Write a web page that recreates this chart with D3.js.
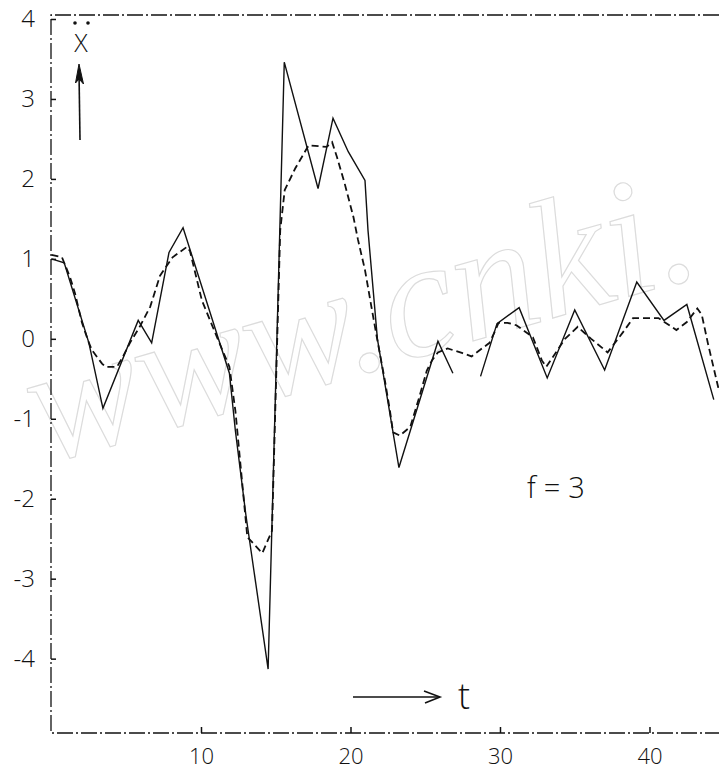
<!DOCTYPE html>
<html>
<head>
<meta charset="utf-8">
<script src="https://cdn.jsdelivr.net/npm/d3@7"></script>
<style>
  body { margin: 0; background: #fff; }
  svg { display: block; }
</style>
</head>
<body>
<svg id="chart"></svg>
<script>
// values (t, x-double-dot)
const solidT = [0, 0.85, 2.5, 3.44, 5.8, 6.7, 7.86, 8.8, 11.9, 12.3, 13.0, 14.49, 15.57, 17.83, 18.83, 19.85,
  20.97, 21.17, 21.8, 23.24, 25.85, 26.85, 27.8, 28.7, 29.8, 31.28, 33.16, 35.0, 37.0, 39.15, 40.97, 42.5, 44.3];
const solidX = [1.0, 0.95, -0.05, -0.87, 0.23, -0.05, 1.08, 1.39, -0.43, -1.15, -2.2, -4.13, 3.46, 1.88, 2.76, 2.34,
  1.98, 1.36, 0.0, -1.61, -0.03, -0.43, null, -0.47, 0.19, 0.39, -0.49, 0.36, -0.39, 0.71, 0.23, 0.43, -0.76];

const dashT = [0, 0.7, 1.24, 1.57, 2.04, 2.44, 2.7, 3.38, 3.6, 4.38, 4.7, 5.25, 5.9, 6.6, 7.26, 8.1, 9.06, 9.26,
  10.06, 11.07, 11.9, 12.3, 13.1, 14.1, 14.75, 14.95, 15.3, 15.6, 16.3, 17.2, 18.4, 18.77, 19.1, 19.6, 20.2, 20.5,
  20.97, 21.4, 21.8, 22.3, 22.64, 22.85, 23.3, 24.0, 24.6, 25.1, 25.45, 25.85, 26.5, 27.5, 28.1, 28.8, 29.3, 29.7,
  29.9, 30.5, 31.1, 32.2, 32.8, 33.1, 34.35, 35.2, 36.1, 37.2, 38.3, 38.9, 40.6, 41.8, 42.5, 43.2, 43.5, 43.9, 44.65];
const dashX = [1.05, 1.02, 0.77, 0.57, 0.2, -0.02, -0.14, -0.31, -0.35, -0.35, -0.25, -0.05, 0.15, 0.4, 0.79, 1.02, 1.15, 1.1,
  0.48, 0.02, -0.35, -0.9, -2.48, -2.68, -2.4, -1.02, 1.36, 1.86, 2.13, 2.42, 2.4, 2.46, 2.27, 1.95, 1.52, 1.24,
  0.86, 0.4, -0.02, -0.52, -0.9, -1.17, -1.21, -1.1, -0.73, -0.4, -0.27, -0.17, -0.12, -0.18, -0.22, -0.12, -0.05, 0.11,
  0.2, 0.2, 0.17, 0.02, -0.27, -0.35, 0.0, 0.15, 0.0, -0.17, 0.1, 0.26, 0.26, 0.11, 0.21, 0.38, 0.3, -0.05, -0.65];

const yTicks = [-4, -3, -2, -1, 0, 1, 2, 3, 4];
const xTicks = [10, 20, 30, 40];

const width = 719;
const height = 776;
const plotLeft = 51, plotTop = 15, plotBottom = 733;
const font = 'Open Sans, DejaVu Sans, sans-serif';
const ink = '#111';

const svg = d3.select('#chart').attr('width', width).attr('height', height);
svg.append('rect').attr('width', width).attr('height', height).attr('fill', '#fff');

// faint watermark of the scan
svg.append('text')
  .attr('transform', 'translate(44,464) rotate(-16)')
  .attr('font-family', 'Liberation Serif, serif')
  .attr('font-style', 'italic')
  .attr('font-size', 168)
  .attr('fill', 'none')
  .attr('stroke', '#dcdcdc')
  .attr('stroke-width', 1.2)
  .text('www.cnki.');

const x = d3.scaleLinear().domain([0, 44.65]).range([51.5, 719]);
const y = d3.scaleLinear().domain([-4.93, 4.05]).range([plotBottom, plotTop]);

// hand-drawn frame (dash-dot)
svg.append('path')
  .attr('d', `M${width},${plotTop}H${plotLeft}V${plotBottom}H${width}`)
  .attr('stroke', ink)
  .attr('stroke-width', 1.3)
  .attr('stroke-dasharray', '16 3 2 3')
  .attr('fill', 'none');

const yAxis = svg.append('g')
  .attr('transform', `translate(${plotLeft},0)`)
  .call(d3.axisLeft(y).tickValues(yTicks).tickSize(-5).tickSizeOuter(0).tickPadding(16)
    .tickFormat((d) => (d < 0 ? '-' + Math.abs(d) : d)))
  .call((g) => g.select('.domain').remove());
yAxis.selectAll('line').attr('stroke', ink).attr('stroke-width', 1.5);
yAxis.selectAll('text')
  .attr('font-family', font)
  .attr('font-size', 24)
  .attr('font-weight', 300)
  .attr('fill', ink);

const xAxis = svg.append('g')
  .attr('transform', `translate(0,${plotBottom})`)
  .call(d3.axisBottom(x).tickValues(xTicks).tickSize(-6).tickSizeOuter(0).tickPadding(15))
  .call((g) => g.select('.domain').remove());
xAxis.selectAll('line').attr('stroke', ink).attr('stroke-width', 1.5);
xAxis.selectAll('text')
  .attr('font-family', font)
  .attr('font-size', 22)
  .attr('font-weight', 300)
  .attr('fill', ink);

// series
const line = d3.line()
  .defined((d) => d[1] != null)
  .x((d) => x(d[0]))
  .y((d) => y(d[1]));

svg.append('path')
  .datum(d3.zip(dashT, dashX))
  .attr('d', line)
  .attr('fill', 'none')
  .attr('stroke', ink)
  .attr('stroke-width', 1.8)
  .attr('stroke-dasharray', '7 4');

svg.append('path')
  .datum(d3.zip(solidT, solidX))
  .attr('d', line)
  .attr('fill', 'none')
  .attr('stroke', ink)
  .attr('stroke-width', 1.4);

// y label: x with two dots and an up arrow
const ann = svg.append('g').attr('fill', ink).attr('stroke', ink);
ann.append('text')
  .attr('x', 81).attr('y', 52)
  .attr('text-anchor', 'middle')
  .attr('stroke', 'none')
  .attr('font-family', font)
  .attr('font-weight', 300)
  .attr('font-size', 25)
  .text('X');
ann.selectAll('circle.dot')
  .data([75, 88])
  .join('circle')
  .attr('class', 'dot')
  .attr('cx', (d) => d).attr('cy', 23).attr('r', 1.8).attr('stroke', 'none');
ann.append('line')
  .attr('x1', 80).attr('y1', 140).attr('x2', 79).attr('y2', 72)
  .attr('stroke-width', 1.6);
ann.append('path')
  .attr('d', 'M79,64 L75.5,83 L79,79 L83.5,84 Z')
  .attr('stroke-width', 1);

// t axis label with arrow
ann.append('line')
  .attr('x1', 353).attr('y1', 697).attr('x2', 439).attr('y2', 697)
  .attr('stroke-width', 1.4);
ann.append('path')
  .attr('d', 'M424,691 L440,697 L425,703')
  .attr('fill', 'none')
  .attr('stroke-width', 1.6);
ann.append('text')
  .attr('x', 464).attr('y', 709)
  .attr('text-anchor', 'middle')
  .attr('stroke', 'none')
  .attr('font-family', font)
  .attr('font-weight', 300)
  .attr('font-size', 36)
  .text('t');

ann.append('text')
  .attr('x', 527).attr('y', 498)
  .attr('stroke', 'none')
  .attr('font-family', font)
  .attr('font-weight', 300)
  .attr('font-size', 29)
  .attr('letter-spacing', 8)
  .text('f=3');
</script>
</body>
</html>
